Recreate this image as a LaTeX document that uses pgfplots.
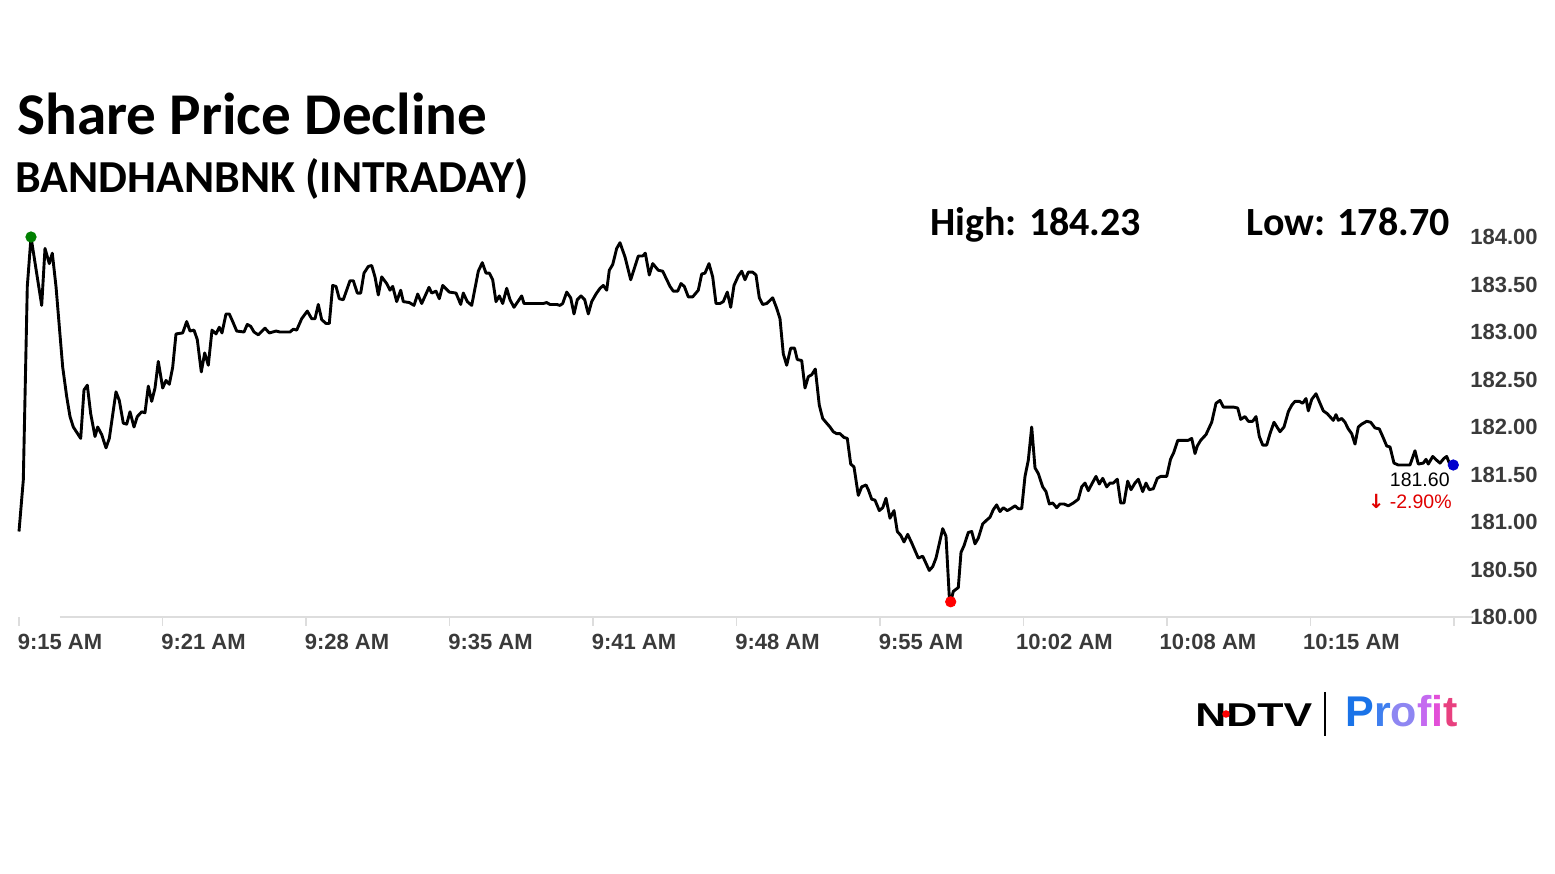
\documentclass[border=0pt]{standalone}
\usepackage{fontspec}
\setmainfont{Liberation Sans}
\newfontfamily\carlito{Carlito}
\newfontfamily\dejavu{DejaVu Sans}
\usepackage{pgfplots}
\pgfplotsset{compat=1.18}
\definecolor{tickgray}{HTML}{3A3A3A}
\definecolor{axgray}{HTML}{DDDDDD}
\definecolor{pgreen}{HTML}{008000}
\definecolor{pred}{HTML}{FF0000}
\definecolor{pblue}{HTML}{0000CD}
\definecolor{txtred}{HTML}{E00000}
\definecolor{pf1}{HTML}{1A73E8}
\definecolor{pf2}{HTML}{3F7FEF}
\definecolor{pf3}{HTML}{8E86F2}
\definecolor{pf4}{HTML}{C46AF0}
\definecolor{pf5}{HTML}{E24FD8}
\definecolor{pf6}{HTML}{E8407F}

\pgfplotstableread{
x y
0 180.90
4.3 181.44
8.3 183.48
12 184.00
22.7 183.28
26 183.88
30.3 183.72
33.3 183.83
37 183.48
40.3 183.06
43.7 182.63
47.7 182.32
51 182.11
54.3 182.00
61.7 181.88
65 182.39
68.3 182.44
71.7 182.14
76 181.90
78.7 182.00
82.7 181.92
87 181.78
90.3 181.88
93.7 182.13
97 182.37
100.3 182.28
104.3 182.04
107.7 182.03
111 182.16
115 182.00
118.3 182.11
122.7 182.16
126 182.15
129.3 182.43
132.7 182.27
136 182.41
139.3 182.69
143.7 182.41
147 182.49
150.3 182.45
153.7 182.63
157 182.98
163.7 182.99
167.7 183.11
171 183.01
175 183.02
178.3 182.92
182.3 182.58
185.7 182.78
189.3 182.65
193 183.02
197 182.98
200.3 183.05
203 182.99
207 183.19
210.3 183.19
213.7 183.11
217.7 183.01
225 183.00
228.3 183.08
231.7 183.06
235 183.00
239.3 182.97
246 183.04
250.3 182.99
257 183.01
261 183.00
271 183.00
274.3 183.03
277.7 183.02
282.7 183.14
288.3 183.22
292.7 183.14
296 183.14
299.3 183.29
302.7 183.13
307 183.09
310.3 183.09
313.7 183.49
317 183.48
320.3 183.35
324.3 183.34
331 183.54
334.3 183.54
338.3 183.41
341.7 183.41
345 183.62
349.3 183.69
352.7 183.70
356 183.58
359.3 183.39
362.7 183.58
367.7 183.51
371 183.44
373.7 183.48
377.7 183.32
381.7 183.44
384.3 183.32
390.3 183.31
395 183.28
398.7 183.40
402.7 183.30
410 183.47
412.7 183.41
417 183.43
420.3 183.35
423.7 183.49
430.3 183.42
437 183.41
441.7 183.29
444.3 183.41
448.3 183.32
452.7 183.28
459.3 183.64
463.3 183.73
467 183.62
470.3 183.62
473.7 183.55
477 183.32
480.3 183.38
483.7 183.30
487.7 183.46
491 183.34
495 183.26
502.7 183.38
505 183.30
524.3 183.30
527.7 183.31
531 183.29
537.7 183.29
541 183.28
543.7 183.30
547.7 183.42
551.7 183.36
555 183.19
558.3 183.34
562 183.38
565.7 183.34
569.3 183.19
572.7 183.32
577 183.40
581 183.46
584.3 183.49
587.7 183.44
590.3 183.65
593.7 183.71
597.7 183.88
601 183.94
606 183.79
611.7 183.55
619.3 183.80
623.7 183.80
626.3 183.83
630.3 183.60
633.7 183.72
639.3 183.65
643.7 183.64
651 183.48
654.3 183.43
658.7 183.43
662 183.51
665.3 183.48
669.3 183.37
673.7 183.37
679.3 183.44
682.7 183.61
686 183.62
690 183.72
693.7 183.58
697 183.30
701 183.30
704.3 183.32
708.3 183.42
711.7 183.26
715 183.49
719.3 183.59
722.7 183.64
726 183.55
729.3 183.63
733.7 183.63
737 183.60
740.3 183.36
743.7 183.29
747.7 183.30
753.7 183.36
757.7 183.25
761 183.14
764.3 182.77
767.7 182.65
771.7 182.83
775.5 182.83
778.3 182.71
782.7 182.70
786 182.41
789.3 182.53
792.7 182.55
796.3 182.61
800.3 182.23
803.7 182.09
807.7 182.04
811 182.00
814.3 181.95
817.7 181.93
821 181.93
825 181.89
828.3 181.88
831.7 181.61
835 181.58
839.3 181.28
842.7 181.37
847 181.39
849.3 181.34
852.7 181.24
856 181.23
860.3 181.12
863.7 181.15
867 181.25
871 181.04
875 181.12
878.3 180.90
881.7 180.86
885 180.79
888.7 180.87
892.7 180.78
899.3 180.62
903.7 180.64
910.3 180.49
913.7 180.53
917 180.62
923.7 180.93
927 180.85
930.3 180.21
931.7 180.16
934.3 180.27
939.3 180.31
942 180.68
945 180.75
949.3 180.89
952.7 180.90
956 180.77
959.3 180.83
963.7 180.98
967.7 181.02
971 181.05
974.3 181.13
977.7 181.18
981 181.11
984.3 181.15
988.3 181.12
991.7 181.14
996 181.17
999.3 181.14
1002.7 181.14
1006 181.48
1009.3 181.65
1012.7 182.00
1016 181.57
1019.3 181.51
1023.7 181.37
1027 181.32
1030.3 181.19
1033.7 181.20
1037.7 181.15
1041 181.19
1045 181.19
1049.3 181.17
1054.3 181.20
1059.3 181.24
1062.7 181.37
1066 181.41
1069.3 181.33
1073.3 181.41
1077 181.48
1080.3 181.40
1083.7 181.46
1087.7 181.37
1091 181.41
1094.3 181.41
1098.3 181.45
1101.7 181.20
1105 181.20
1108.7 181.43
1112 181.34
1116 181.41
1119.3 181.45
1123.7 181.32
1127 181.41
1130.3 181.34
1134.3 181.35
1138.3 181.46
1141.7 181.48
1147.7 181.48
1151.5 181.66
1154.7 181.73
1158.8 181.86
1164.3 181.86
1169.3 181.86
1172.7 181.88
1176 181.72
1178.3 181.80
1181.7 181.86
1187 181.92
1192.7 182.05
1197 182.25
1201 182.28
1204.3 182.21
1214.3 182.21
1218.7 182.20
1221.7 182.08
1226 182.11
1229.3 182.06
1233.7 182.06
1237 182.11
1240.3 181.90
1243.7 181.81
1247.7 181.81
1251 181.93
1255 182.05
1261 181.95
1265 182.00
1269.3 182.16
1272.7 182.23
1276 182.27
1280.3 182.27
1283.7 182.25
1287 182.30
1289.3 182.17
1292.7 182.29
1297 182.35
1301 182.25
1304.3 182.17
1308.3 182.14
1311.7 182.10
1314.3 182.07
1317 182.13
1319.3 182.07
1322.7 182.09
1326 182.05
1329.3 181.98
1332.7 181.93
1336 181.82
1339.3 182.00
1342.7 182.03
1347.7 182.06
1351.7 182.05
1356 181.99
1360.3 181.98
1363.7 181.90
1367.7 181.80
1371 181.79
1375 181.62
1379.3 181.60
1391 181.60
1396 181.75
1399.3 181.61
1404.3 181.62
1407 181.66
1409.3 181.61
1413.7 181.69
1417.7 181.65
1421 181.62
1425 181.67
1427.7 181.69
1430.3 181.62
1434.3 181.60
}\pricedata

\begin{document}
\begin{tikzpicture}
\useasboundingbox (0,0) rectangle (777.5pt,437pt);
\begin{axis}[
  at={(9.5pt,128.5pt)}, anchor=south west,
  scale only axis, width=717.5pt, height=190pt,
  xmin=0, xmax=1435, ymin=180, ymax=184,
  clip=false,
  axis x line*=bottom, axis y line*=right,
  x axis line style={draw=none}, y axis line style={draw=none},
  /pgf/number format/assume math mode=true,
  xtick={0,143.5,287,430.5,574,717.5,861,1004.5,1148,1291.5,1435},
  xticklabels={9:15 AM,9:21 AM,9:28 AM,9:35 AM,9:41 AM,9:48 AM,9:55 AM,10:02 AM,10:08 AM,10:15 AM,{}},
  xtick style={draw=axgray, line width=0.8pt},
  tick align=outside, major tick length=4.5pt,
  ytick={180,180.5,181,181.5,182,182.5,183,183.5,184},
  ytick style={draw=none},
  yticklabel style={/pgf/number format/fixed, /pgf/number format/fixed zerofill, /pgf/number format/precision=2, anchor=west, inner sep=0pt, xshift=3.5pt},
  xticklabel style={anchor=north, inner sep=0pt, xshift=20.5pt, yshift=-4pt},
  tick label style={font=\bfseries\fontsize{11}{13}\selectfont, text=tickgray},
]
\draw[axgray, line width=0.8pt] (axis cs:41,180) -- (axis cs:1454,180);
\addplot[black, line width=1.45pt, line join=round] table[x=x,y=y] {\pricedata};
\addplot[only marks, mark=*, mark size=2.6pt, color=pgreen] coordinates {(12,184.00)};
\addplot[only marks, mark=*, mark size=2.6pt, color=pred] coordinates {(931.7,180.16)};
\addplot[only marks, mark=*, mark size=2.6pt, color=pblue] coordinates {(1434.3,181.60)};
\end{axis}
\begin{scope}[x=0.5pt, y=-0.5pt, yshift=437pt]
\node[anchor=base west, inner sep=0pt, font=\carlito\bfseries\fontsize{29.6}{32}\selectfont] at (17,135) {Share Price Decline};
\node[anchor=base west, inner sep=0pt, font=\carlito\bfseries\fontsize{22.9}{26}\selectfont] at (15,193) {BANDHANBNK (INTRADAY)};
\node[anchor=base west, inner sep=0pt, font=\carlito\bfseries\fontsize{20}{24}\selectfont] at (930,236) {High: 184.23};
\node[anchor=base east, inner sep=0pt, font=\carlito\bfseries\fontsize{20}{24}\selectfont] at (1450,236) {Low: 178.70};
\node[anchor=base east, inner sep=0pt, font=\fontsize{9.75}{11}\selectfont] at (1450,487) {181.60};
\node[anchor=base east, inner sep=0pt, font=\fontsize{9.75}{11}\selectfont, text=txtred] at (1452,509) {{\dejavu\bfseries ↓} -2.90\%};
% logo
\node[anchor=base west, inner sep=0pt, font=\bfseries\fontsize{16.5}{18}\selectfont] at (1195,727) {\scalebox{1.3}[1]{NDTV}};
\fill[pred] (1226,714) circle (3.8);
\draw[black, line width=1.2pt] (1325,692) -- (1325,736);
\node[anchor=base west, inner sep=0pt, font=\bfseries\fontsize{21.5}{24}\selectfont] at (1345,727) {\scalebox{1.0}[1]{\textcolor{pf1}{P}\textcolor{pf2}{r}\textcolor{pf3}{o}\textcolor{pf4}{f}\textcolor{pf5}{i}\textcolor{pf6}{t}}};
\end{scope}
\end{tikzpicture}
\end{document}
